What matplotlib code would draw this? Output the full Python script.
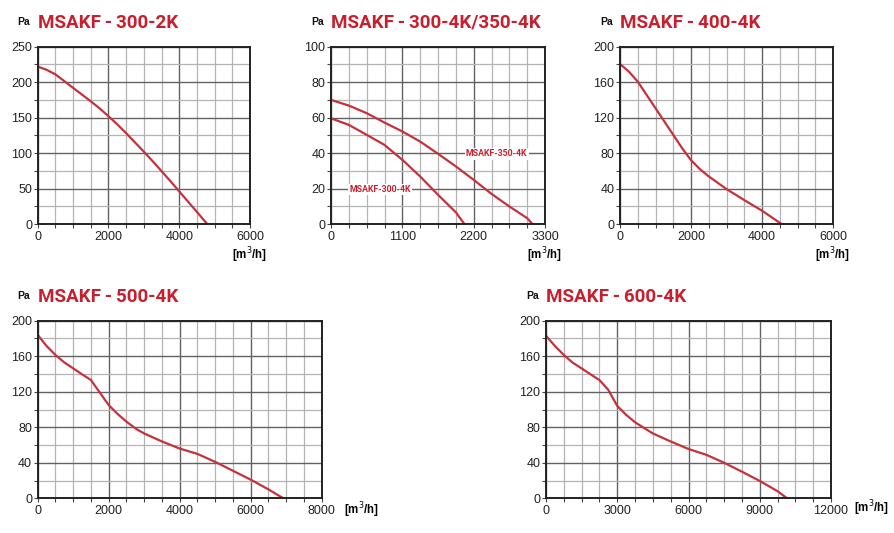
import matplotlib
matplotlib.use("Agg")
import matplotlib.pyplot as plt
from matplotlib.ticker import MultipleLocator

plt.rcParams['font.family'] = ['Liberation Sans', 'DejaVu Sans']

# ---------------- data ----------------
titles = ["MSAKF\u2009-\u2009300-2K", "MSAKF\u2009-\u2009300-4K/350-4K",
          "MSAKF\u2009-\u2009400-4K", "MSAKF\u2009-\u2009500-4K",
          "MSAKF\u2009-\u2009600-4K"]

# MSAKF-300-2K
q_300_2k = [0, 250, 500, 750, 1000, 1250, 1500, 1750, 2000, 2250, 2500, 2750,
            3000, 3250, 3500, 3750, 4000, 4250, 4500, 4790]
p_300_2k = [222, 217.5, 211, 201.5, 192, 182.5, 173, 163, 152, 140.5, 128, 115,
            102, 88.5, 74.5, 60.5, 46, 31.5, 17, 0]

# MSAKF-300-4K / 350-4K
q_350_4k = [0, 275, 550, 825, 1100, 1375, 1650, 1925, 2200, 2475, 2750, 3025, 3105]
p_350_4k = [70, 66.8, 62.5, 57.2, 52.2, 46.5, 39.6, 32.5, 24.9, 17, 9.9, 3.3, 0]
q_300_4k = [0, 275, 550, 825, 1100, 1375, 1650, 1925, 2056]
p_300_4k = [59.6, 55.9, 50.3, 44.6, 36.2, 26.8, 16.5, 6.6, 0]

# MSAKF-400-4K
q_400_4k = [0, 250, 500, 750, 1000, 1250, 1500, 1750, 2000, 2250, 2500, 3000,
            3500, 4000, 4550]
p_400_4k = [180.5, 171.9, 160.6, 145.6, 130.6, 115.6, 100.6, 85.5, 72, 61.9,
            53.7, 39.4, 27, 15, 0]

# MSAKF-500-4K
q_500_4k = [0, 250, 500, 750, 1000, 1250, 1500, 1665, 2000, 2250, 2500, 2790,
            3000, 3500, 4000, 4500, 5000, 5500, 6000, 6500, 6920]
p_500_4k = [184, 171.5, 161.4, 153, 146.3, 139.6, 133.2, 123.8, 105, 95, 86.3,
            77.7, 73, 64, 56, 50, 41, 31, 21, 10, 0]

# MSAKF-600-4K
q_600_4k = [0, 375, 750, 1125, 1500, 1875, 2250, 2625, 3000, 3375, 3750, 4500,
            5250, 6000, 6750, 7500, 8250, 9000, 9750, 10150]
p_600_4k = [183.1, 171.5, 161.4, 152.7, 146.3, 139.6, 133.2, 122, 104, 94,
            85.6, 73, 64, 55.5, 49, 40, 30, 19.5, 8, 0]

# ---------------- style ----------------
RED_T = "#c81f2e"
RED_L = "#c4323c"
MAJ = "#626262"
MIN = "#b4b4b4"

W, H = 894, 533
fig = plt.figure(figsize=(W / 100, H / 100), dpi=100)


def px_axes(x0, x1, ytop, ybot):
    return [x0 / W, 1 - ybot / H, (x1 - x0) / W, (ybot - ytop) / H]


def setup(ax, xmax, xmaj, xmin, ymax, ymaj, ymin, title):
    ax.set_xlim(0, xmax)
    ax.set_ylim(0, ymax)
    ax.xaxis.set_major_locator(MultipleLocator(xmaj))
    ax.xaxis.set_minor_locator(MultipleLocator(xmin))
    ax.yaxis.set_major_locator(MultipleLocator(ymaj))
    ax.yaxis.set_minor_locator(MultipleLocator(ymin))
    ax.grid(which="major", color=MAJ, lw=1.0)
    ax.grid(which="minor", color=MIN, lw=0.9)
    ax.set_axisbelow(True)
    for s in ax.spines.values():
        s.set_linewidth(1.4)
        s.set_color("#222222")
    ax.tick_params(which="both", direction="out", length=3, width=0.8,
                   color="#444444", labelsize=9, labelcolor="#222222", pad=1)
    ax.tick_params(axis="x", pad=2)
    ax.annotate(title, xy=(0, 1), xycoords="axes fraction",
                xytext=(0, 24), textcoords="offset pixels",
                ha="left", va="center", color=RED_T, fontsize=13.5,
                fontweight="bold", family=["Roboto", "DejaVu Sans"])
    ax.annotate("Pa", xy=(0, 1), xycoords="axes fraction",
                xytext=(-20, 25), textcoords="offset pixels",
                ha="left", va="center", color="#111111", fontsize=7.5,
                fontweight="bold")


unit = r"[m$^{3}$/h]"


def unit_label(ax, dx, dy):
    ax.annotate(unit, xy=(1, 0), xycoords="axes fraction", xytext=(dx, dy),
                textcoords="offset pixels", ha="center", va="center",
                fontsize=8.3, fontweight="bold")


ax1 = fig.add_axes(px_axes(37.7, 250, 46.7, 224))
setup(ax1, 6000, 2000, 500, 250, 50, 25, titles[0])
ax1.plot(q_300_2k, p_300_2k, color=RED_L, lw=1.6)
unit_label(ax1, 0, -31)

ax2 = fig.add_axes(px_axes(331, 545, 46.7, 224))
setup(ax2, 3300, 1100, 275, 100, 20, 10, titles[1])
ax2.plot(q_350_4k, p_350_4k, color=RED_L, lw=1.6)
ax2.plot(q_300_4k, p_300_4k, color=RED_L, lw=1.6)
bb = dict(boxstyle="square,pad=0.15", fc="white", ec="none")
ax2.text(2555, 39.5, "MSAKF-350-4K", color=RED_T, fontsize=6.3,
         fontweight="bold", ha="center", va="center", bbox=bb,
         family=["Roboto", "DejaVu Sans"])
ax2.text(756, 19.5, "MSAKF-300-4K", color=RED_T, fontsize=6.3,
         fontweight="bold", ha="center", va="center", bbox=bb,
         family=["Roboto", "DejaVu Sans"])
unit_label(ax2, 0, -31)

ax3 = fig.add_axes(px_axes(620, 833, 46.7, 224))
setup(ax3, 6000, 2000, 500, 200, 40, 20, titles[2])
ax3.plot(q_400_4k, p_400_4k, color=RED_L, lw=1.6)
unit_label(ax3, 0, -31)

ax4 = fig.add_axes(px_axes(37.7, 321.7, 320.7, 498.3))
setup(ax4, 8000, 2000, 500, 200, 40, 20, titles[3])
ax4.plot(q_500_4k, p_500_4k, color=RED_L, lw=1.6)
unit_label(ax4, 40, -12)

ax5 = fig.add_axes(px_axes(546, 831, 320.7, 498.3))
setup(ax5, 12000, 3000, 750, 200, 40, 20, titles[4])
ax5.plot(q_600_4k, p_600_4k, color=RED_L, lw=1.6)
unit_label(ax5, 41, -10)

fig.savefig("out.png", dpi=100)
